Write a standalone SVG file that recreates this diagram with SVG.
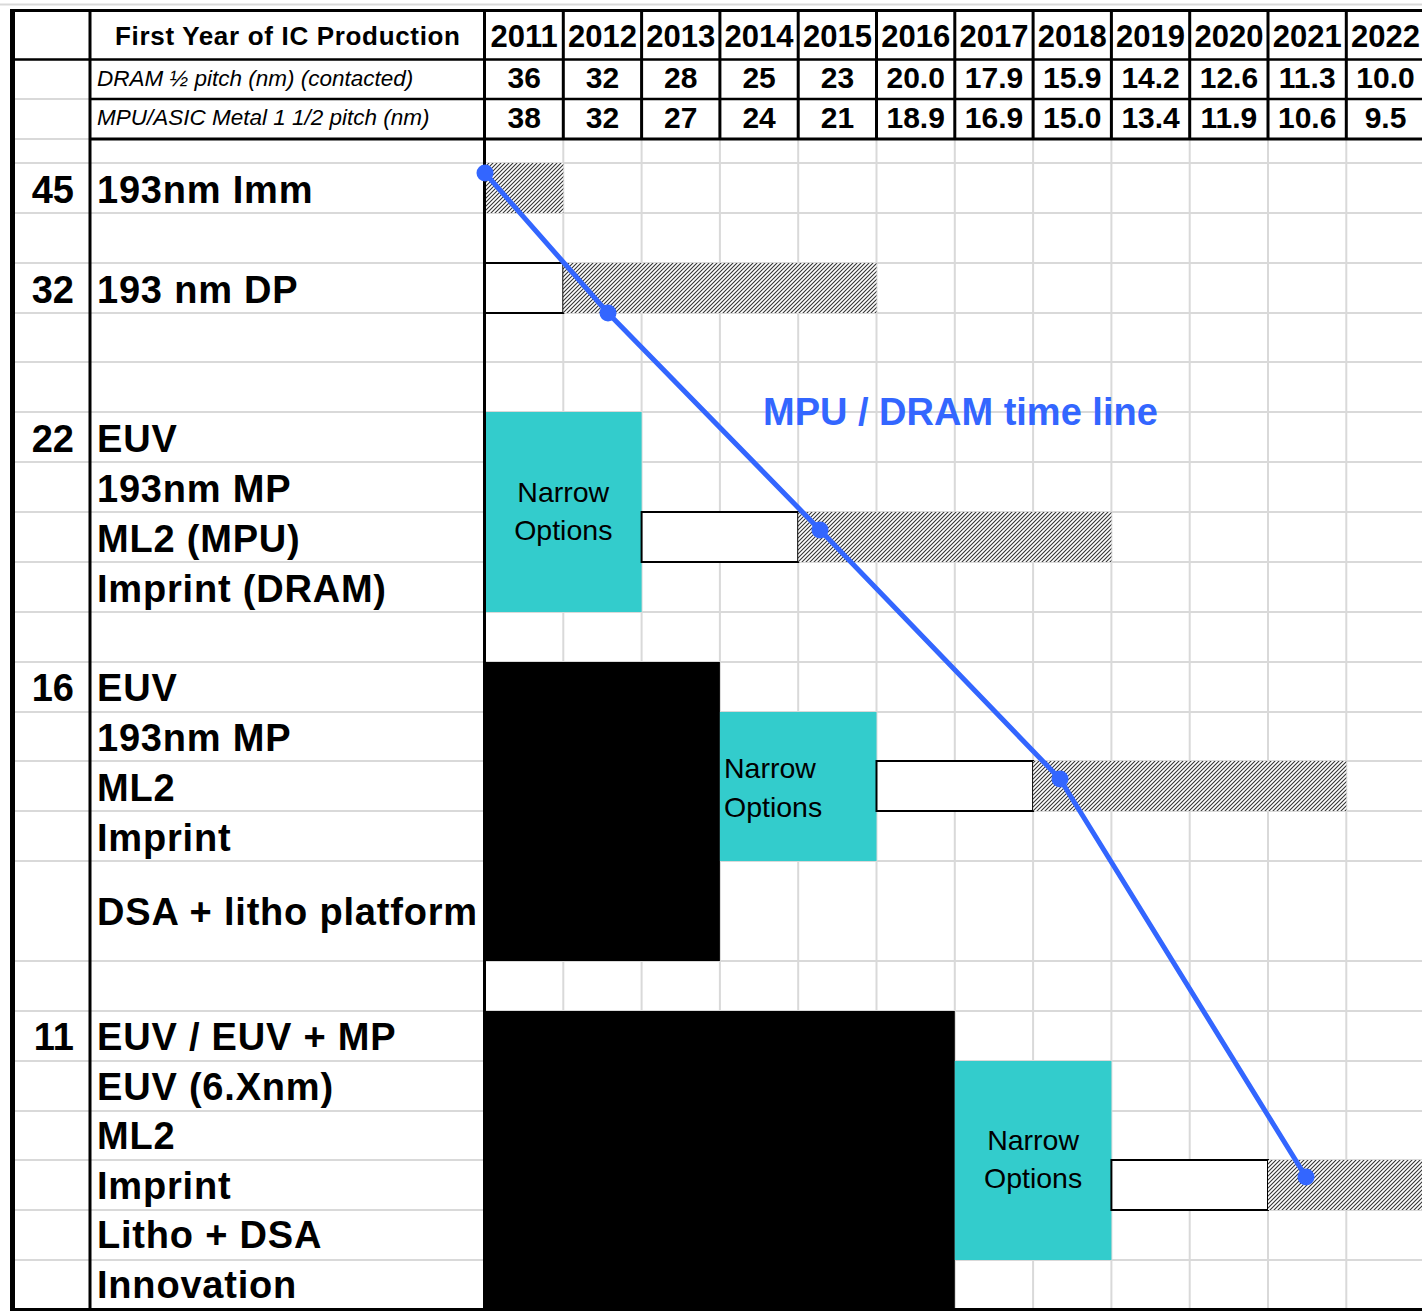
<svg xmlns="http://www.w3.org/2000/svg" width="1422" height="1311" viewBox="0 0 1422 1311">
<style>
.g{stroke:#d9d9d9;stroke-width:2;fill:none}
.b{stroke:#000;fill:none}
.hdr{font-family:"Liberation Sans",Arial,sans-serif;font-weight:bold;fill:#000}
.yr{font-size:31px;text-anchor:middle}
.num{font-size:30px;text-anchor:middle}
.it{font-family:"Liberation Sans",Arial,sans-serif;font-style:italic;font-size:22.5px;fill:#000}
.lab{font-family:"Liberation Sans",Arial,sans-serif;font-weight:bold;font-size:38px;letter-spacing:0.8px;fill:#000}
.nd{font-family:"Liberation Sans",Arial,sans-serif;font-weight:bold;font-size:38px;text-anchor:end;fill:#000}
.teal{fill:#33cccc}
.nar{font-family:"Liberation Sans",Arial,sans-serif;font-size:28.5px;fill:#000}
.wb{fill:#fff;stroke:#000;stroke-width:2}
.hat{fill:url(#hatch)}
.blk{fill:#000}
.tl{stroke:#3366ff;stroke-width:5;fill:none;stroke-linejoin:round}
.dot{fill:#3366ff}
</style>
<defs>
<pattern id="hatch" patternUnits="userSpaceOnUse" width="4" height="4">
<rect width="4" height="4" fill="#fff"/>
<path d="M-1,1 L1,-1 M0,4 L4,0 M3,5 L5,3" stroke="#333" stroke-width="1.1"/>
</pattern>
</defs>
<rect width="1422" height="1311" fill="#fff"/>
<g id="grid">
<line class="g" x1="0" y1="4.5" x2="1422" y2="4.5"/>
<path class="g" d="M12,99H90M12,139H90"/>
<path class="g" d="M12,163H1422M12,213H1422M12,263H1422M12,313H1422M12,362H1422M12,412H1422M12,462H1422M12,512H1422M12,562H1422M12,612H1422M12,662H1422M12,712H1422M12,761H1422M12,811H1422M12,861H1422M12,961H1422M12,1011H1422M12,1061H1422M12,1111H1422M12,1160H1422M12,1210H1422M12,1260H1422"/>
<path class="g" d="M563.3,139V1310M641.6,139V1310M719.9,139V1310M798.2,139V1310M876.5,139V1310M954.8,139V1310M1033.1,139V1310M1111.4,139V1310M1189.7,139V1310M1268,139V1310M1346.3,139V1310"/>
</g>
<g id="row45">
<text class="nd" x="74" y="203">45</text>
<text class="lab" x="97" y="203">193nm Imm</text>
<rect class="hat" x="485" y="163" width="78.3" height="50"/>
</g>
<g id="row32">
<text class="nd" x="74" y="303">32</text>
<text class="lab" x="97" y="303">193 nm DP</text>
<rect class="wb" x="485" y="263" width="78.3" height="50"/>
<rect class="hat" x="563.3" y="263" width="313.2" height="50"/>
</g>
<g id="row22">
<text class="nd" x="74" y="452">22</text>
<text class="lab" x="97" y="452">EUV</text>
<text class="lab" x="97" y="502">193nm MP</text>
<text class="lab" x="97" y="552">ML2 (MPU)</text>
<text class="lab" x="97" y="602">Imprint (DRAM)</text>
<rect class="teal" x="485" y="412" width="156.6" height="200"/>
<text class="nar" x="563.3" y="502" text-anchor="middle">Narrow</text>
<text class="nar" x="563.3" y="540" text-anchor="middle">Options</text>
<rect class="wb" x="641.6" y="512" width="156.6" height="50"/>
<rect class="hat" x="798.2" y="512" width="313.2" height="50"/>
</g>
<g id="row16">
<text class="nd" x="74" y="701">16</text>
<text class="lab" x="97" y="701">EUV</text>
<text class="lab" x="97" y="751">193nm MP</text>
<text class="lab" x="97" y="801">ML2</text>
<text class="lab" x="97" y="851">Imprint</text>
<text class="lab" x="97" y="925">DSA + litho platform</text>
<rect class="blk" x="485" y="662" width="234.9" height="299"/>
<rect class="teal" x="719.9" y="712" width="156.6" height="149"/>
<text class="nar" x="724" y="778">Narrow</text>
<text class="nar" x="724" y="817">Options</text>
<rect class="wb" x="876.5" y="761" width="156.6" height="50"/>
<rect class="hat" x="1033.1" y="761" width="313.2" height="50"/>
</g>
<g id="row11">
<text class="nd" x="74" y="1050">11</text>
<text class="lab" x="97" y="1050">EUV / EUV + MP</text>
<text class="lab" x="97" y="1100">EUV (6.Xnm)</text>
<text class="lab" x="97" y="1149">ML2</text>
<text class="lab" x="97" y="1199">Imprint</text>
<text class="lab" x="97" y="1248">Litho + DSA</text>
<text class="lab" x="97" y="1298">Innovation</text>
<rect class="blk" x="485" y="1011" width="469.8" height="299"/>
<rect class="teal" x="954.8" y="1061" width="156.6" height="199"/>
<text class="nar" x="1033.1" y="1150" text-anchor="middle">Narrow</text>
<text class="nar" x="1033.1" y="1188" text-anchor="middle">Options</text>
<rect class="wb" x="1111.4" y="1160" width="156.6" height="50"/>
<rect class="hat" x="1268" y="1160" width="156" height="50"/>
</g>
<g id="header">
<text class="hdr" x="287.5" y="45" font-size="26" text-anchor="middle" textLength="345" lengthAdjust="spacing">First Year of IC Production</text>
<text class="it" x="97" y="86">DRAM ½ pitch (nm) (contacted)</text>
<text class="it" x="97" y="125">MPU/ASIC Metal 1 1/2 pitch (nm)</text>
<g class="hdr yr">
<text x="524.2" y="47">2011</text><text x="602.5" y="47">2012</text><text x="680.8" y="47">2013</text><text x="759.1" y="47">2014</text><text x="837.4" y="47">2015</text><text x="915.7" y="47">2016</text><text x="994" y="47">2017</text><text x="1072.3" y="47">2018</text><text x="1150.6" y="47">2019</text><text x="1228.9" y="47">2020</text><text x="1307.2" y="47">2021</text><text x="1385.5" y="47">2022</text>
</g>
<g class="hdr num">
<text x="524.2" y="88">36</text><text x="602.5" y="88">32</text><text x="680.8" y="88">28</text><text x="759.1" y="88">25</text><text x="837.4" y="88">23</text><text x="915.7" y="88">20.0</text><text x="994" y="88">17.9</text><text x="1072.3" y="88">15.9</text><text x="1150.6" y="88">14.2</text><text x="1228.9" y="88">12.6</text><text x="1307.2" y="88">11.3</text><text x="1385.5" y="88">10.0</text>
<text x="524.2" y="128">38</text><text x="602.5" y="128">32</text><text x="680.8" y="128">27</text><text x="759.1" y="128">24</text><text x="837.4" y="128">21</text><text x="915.7" y="128">18.9</text><text x="994" y="128">16.9</text><text x="1072.3" y="128">15.0</text><text x="1150.6" y="128">13.4</text><text x="1228.9" y="128">11.9</text><text x="1307.2" y="128">10.6</text><text x="1385.5" y="128">9.5</text>
</g>
</g>
<g id="borders">
<path class="b" stroke-width="3" d="M10,10.5H1422"/>
<path class="b" stroke-width="5" d="M12.5,9V1311"/>
<path class="b" stroke-width="3" d="M10,1309.5H1422"/>
<path class="b" stroke-width="3" d="M90,10V1311"/>
<path class="b" stroke-width="3" d="M484.5,10V1311"/>
<path class="b" stroke-width="2.5" d="M10,59.5H1422M90,99H1422"/>
<path class="b" stroke-width="3" d="M90,139H1422"/>
<path class="b" stroke-width="3" d="M563.3,10V139M641.6,10V139M719.9,10V139M798.2,10V139M876.5,10V139M954.8,10V139M1033.1,10V139M1111.4,10V139M1189.7,10V139M1268,10V139M1346.3,10V139"/>
</g>
<g id="connectors">
<polyline class="tl" points="485,173 608,313 820,530 1060,779 1306,1177"/>
<circle class="dot" cx="485" cy="173" r="8.5"/>
<circle class="dot" cx="608" cy="313" r="8.5"/>
<circle class="dot" cx="820" cy="530" r="8.5"/>
<circle class="dot" cx="1060" cy="779" r="8.5"/>
<circle class="dot" cx="1306" cy="1177" r="8.5"/>
</g>
<g id="timeline-label">
<text x="763" y="425" font-family="Liberation Sans, Arial, sans-serif" font-weight="bold" font-size="38" fill="#3366ff">MPU / DRAM time line</text>
</g>
</svg>
